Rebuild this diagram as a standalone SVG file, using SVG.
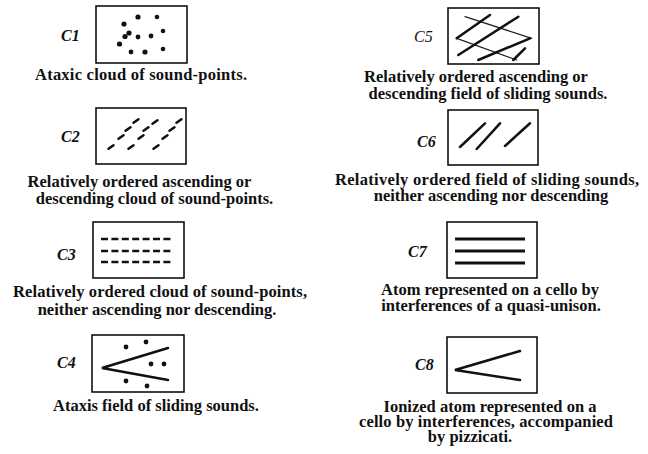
<svg xmlns="http://www.w3.org/2000/svg" width="648" height="454" viewBox="0 0 648 454">
<style>
.box{fill:#fff;stroke:#000;stroke-width:1.5}
.lbl{font-family:"Liberation Serif",serif;font-weight:bold;font-style:italic;font-size:16px;fill:#111}
.cap{font-family:"Liberation Serif",serif;font-weight:bold;font-size:16.5px;fill:#111;text-anchor:middle}
.ln{stroke:#111;stroke-width:2.5;stroke-linecap:round;fill:none}
.thin{stroke:#222;stroke-width:1.3;stroke-linecap:round;fill:none}
.dot{fill:#111}
</style>
<rect width="648" height="454" fill="#fff"/>
<g id="c1">
<text class="lbl" x="61" y="41">C1</text>
<rect class="box" x="96" y="6" width="91" height="57"/>
<g class="dot">
<circle cx="138" cy="17" r="2.6"/><circle cx="157" cy="17" r="2.3"/><circle cx="124" cy="24" r="2.6"/>
<circle cx="163" cy="31" r="2.3"/><circle cx="129" cy="33" r="2.6"/><circle cx="125" cy="36.5" r="2.6"/>
<circle cx="138" cy="37" r="2.4"/><circle cx="151" cy="36" r="2.4"/><circle cx="119.5" cy="44" r="2.6"/>
<circle cx="131" cy="52" r="2.4"/><circle cx="145" cy="52" r="2.6"/><circle cx="163" cy="49" r="2.3"/>
</g>
<text class="cap" x="141" y="80" textLength="212">Ataxic cloud of sound-points.</text>
</g>
<g id="c2">
<text class="lbl" x="61" y="142">C2</text>
<rect class="box" x="96" y="108" width="90" height="56"/>
<g class="ln">
<path d="M108.5 148.8l5 -3.6M118.5 138.8l5 -3.6M125.5 130.8l5 -3.6M133.5 122.8l5 -3.6"/>
<path d="M128.5 148.8l5 -3.6M138.5 138.8l5 -3.6M143.5 130.8l5 -3.6M152.5 123.8l5 -3.6"/>
<path d="M153.5 148.8l5 -3.6M162.5 138.8l5 -3.6M169.5 130.8l5 -3.6M176.5 122.8l5 -3.6"/>
</g>
<text class="cap" x="139.5" y="187">Relatively ordered ascending or</text>
<text class="cap" x="154.5" y="204">descending cloud of sound-points.</text>
</g>
<g id="c3">
<text class="lbl" x="57" y="260">C3</text>
<rect class="box" x="93" y="222" width="91" height="56"/>
<path class="ln" style="stroke-linecap:butt;stroke-dasharray:7 3.4" d="M101 239H172M101 251H172M101 262H172"/>
<text class="cap" x="160" y="297" textLength="294">Relatively ordered cloud of sound-points,</text>
<text class="cap" x="157" y="315">neither ascending nor descending.</text>
</g>
<g id="c4">
<text class="lbl" x="57" y="368">C4</text>
<rect class="box" x="92" y="335" width="92" height="57"/>
<path class="ln" d="M168 348L102 368L168 380"/>
<g class="dot">
<circle cx="126" cy="347" r="2.4"/><circle cx="146" cy="342" r="2.4"/><circle cx="151" cy="364" r="2.4"/>
<circle cx="164" cy="364" r="2.4"/><circle cx="126" cy="381" r="2.4"/><circle cx="147" cy="386" r="2.4"/>
</g>
<text class="cap" x="156" y="411">Ataxis field of sliding sounds.</text>
</g>
<g id="c5">
<text class="lbl" x="414" y="42" style="font-weight:normal">C5</text>
<rect class="box" x="448" y="8" width="91" height="56"/>
<path class="thin" d="M465 16.7L531.7 38.3M456.7 38.3L516.7 60"/>
<path class="ln" d="M456.7 38.3L490 15M458.3 55L518.3 16.7M478.3 60L530 38.3M513.3 60L525 48.3"/>
<text class="cap" x="476" y="82">Relatively ordered ascending or</text>
<text class="cap" x="488" y="99">descending field of sliding sounds.</text>
</g>
<g id="c6">
<text class="lbl" x="417" y="147">C6</text>
<rect class="box" x="448" y="110" width="90" height="55"/>
<path class="ln" d="M460 147L485 123.3M476.7 149L500 123.3M505 146L530 123.3"/>
<text class="cap" x="487" y="185" textLength="304">Relatively ordered field of sliding sounds,</text>
<text class="cap" x="491" y="201">neither ascending nor descending</text>
</g>
<g id="c7">
<text class="lbl" x="408" y="257">C7</text>
<rect class="box" x="447" y="222" width="90" height="56"/>
<path class="ln" style="stroke-width:3;stroke-linecap:butt" d="M455 239H525M455 251H525M455 263H525"/>
<text class="cap" x="490" y="295">Atom represented on a cello by</text>
<text class="cap" x="491" y="311">interferences of a quasi-unison.</text>
</g>
<g id="c8">
<text class="lbl" x="415" y="370">C8</text>
<rect class="box" x="447" y="337" width="90" height="56"/>
<path class="ln" d="M520 351L455 370L520 380"/>
<text class="cap" x="490" y="412">Ionized atom represented on a</text>
<text class="cap" x="486" y="427" textLength="254">cello by interferences, accompanied</text>
<text class="cap" x="470" y="442">by pizzicati.</text>
</g>
</svg>
